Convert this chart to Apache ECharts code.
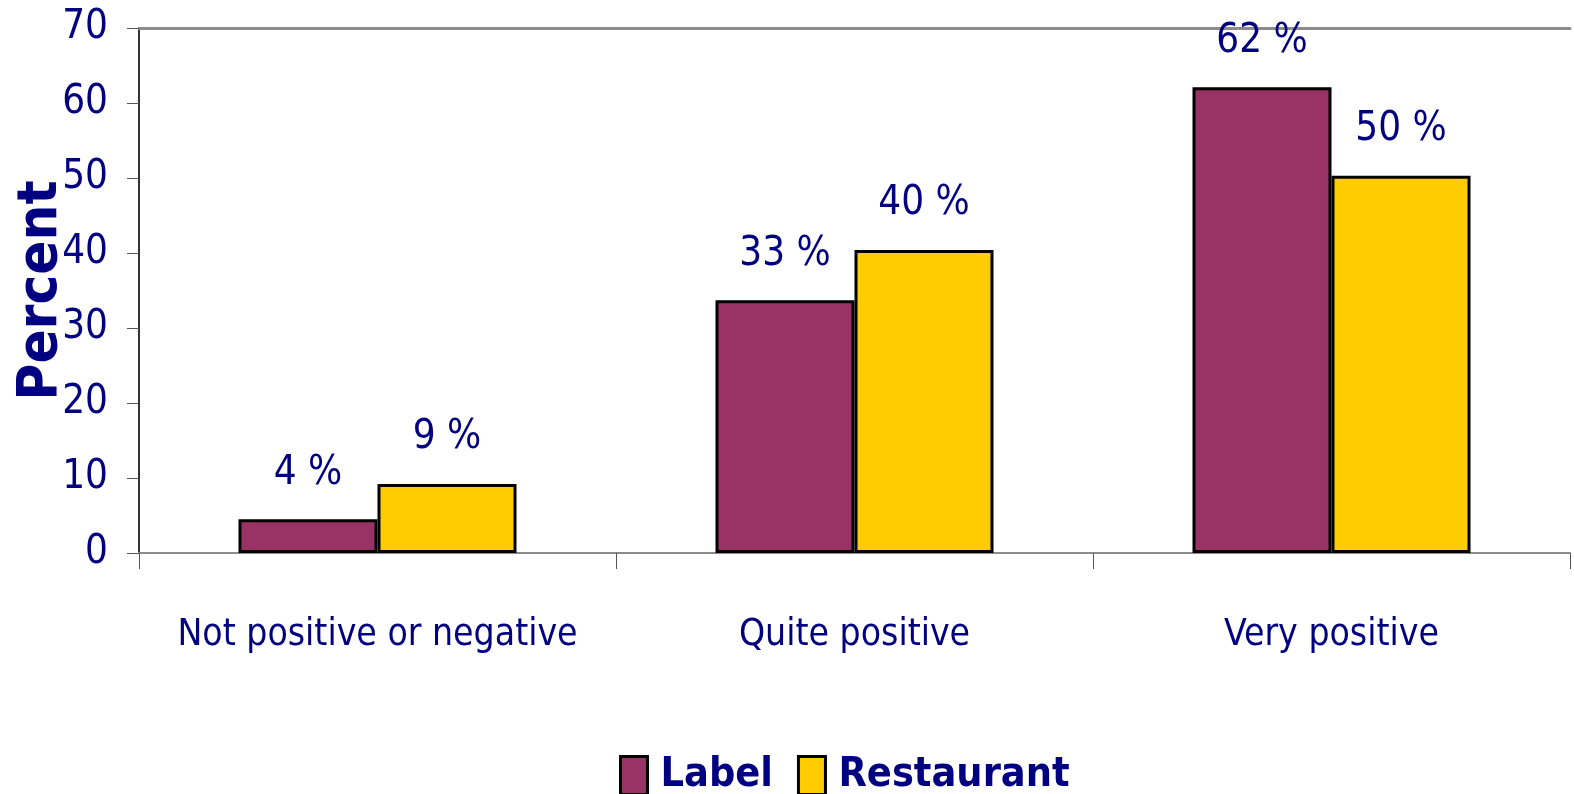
<!DOCTYPE html>
<html>
<head>
<meta charset="utf-8">
<script src="https://cdn.jsdelivr.net/npm/echarts@6/dist/echarts.min.js"></script>
<style>
  html, body { margin: 0; padding: 0; background: #fff; }
  #chart { width: 1574px; height: 794px; }
</style>
</head>
<body>
<div id="chart"></div>
<script>
var categories = ['Not positive or negative', 'Quite positive', 'Very positive']
var labelValues = [4.5, 33.7, 62.1]
var restaurantValues = [9.2, 40.4, 50.3]
var labelTexts = ['4 %', '33 %', '62 %']
var restaurantTexts = ['9 %', '40 %', '50 %']

var FONT = '"DejaVu Sans Condensed", "Liberation Sans Narrow", sans-serif'
var NAVY = '#000080'

var chart = echarts.init(document.getElementById('chart'))
chart.setOption({
  animation: false,
  grid: { left: 139, right: 4, top: 28, bottom: 241, outerBoundsMode: 'none' },
  legend: {
    top: 750,
    left: 614,
    itemWidth: 27,
    itemHeight: 38,
    itemGap: 24,
    icon: 'rect',
    itemStyle: { borderColor: '#000', borderWidth: 3 },
    textStyle: { fontFamily: FONT, fontSize: 41, fontWeight: 'bold', color: NAVY, padding: [0, 0, 0, 8] },
    data: ['Label', 'Restaurant']
  },
  xAxis: [
    {
      type: 'category',
      data: categories,
      axisLine: { lineStyle: { color: '#8c8c8c', width: 2 } },
      axisTick: { show: true, interval: 0, length: 16, lineStyle: { color: '#555', width: 1 } },
      axisLabel: { interval: 0, margin: 64, fontFamily: FONT, fontSize: 37, color: NAVY }
    },
    {
      type: 'category',
      position: 'top',
      data: categories,
      axisLine: { lineStyle: { color: '#8c8c8c', width: 3 } },
      axisTick: { show: false },
      axisLabel: { show: false }
    }
  ],
  yAxis: {
    type: 'value',
    min: 0,
    max: 70,
    interval: 10,
    name: 'Percent',
    nameLocation: 'middle',
    nameGap: 70,
    nameMoveOverlap: false,
    nameTextStyle: { fontFamily: FONT, fontSize: 56, fontWeight: 'bold', color: NAVY },
    axisLine: { show: true, lineStyle: { color: '#333', width: 2 } },
    axisTick: { show: true, length: 12, lineStyle: { color: '#555' } },
    splitLine: { show: false },
    axisLabel: { margin: 31, fontFamily: FONT, fontSize: 40, color: NAVY }
  },
  series: [
    {
      name: 'Label',
      type: 'bar',
      barWidth: 139,
      barGap: '0%',
      data: labelValues,
      itemStyle: { color: '#993366', borderColor: '#000', borderWidth: 3 },
      label: {
        show: true,
        position: 'top',
        distance: 26,
        fontFamily: FONT,
        fontSize: 40,
        color: NAVY,
        formatter: function (p) { return labelTexts[p.dataIndex] }
      }
    },
    {
      name: 'Restaurant',
      type: 'bar',
      barWidth: 139,
      data: restaurantValues,
      itemStyle: { color: '#ffcc00', borderColor: '#000', borderWidth: 3 },
      label: {
        show: true,
        position: 'top',
        distance: 26,
        fontFamily: FONT,
        fontSize: 40,
        color: NAVY,
        formatter: function (p) { return restaurantTexts[p.dataIndex] }
      }
    }
  ]
})
</script>
</body>
</html>
